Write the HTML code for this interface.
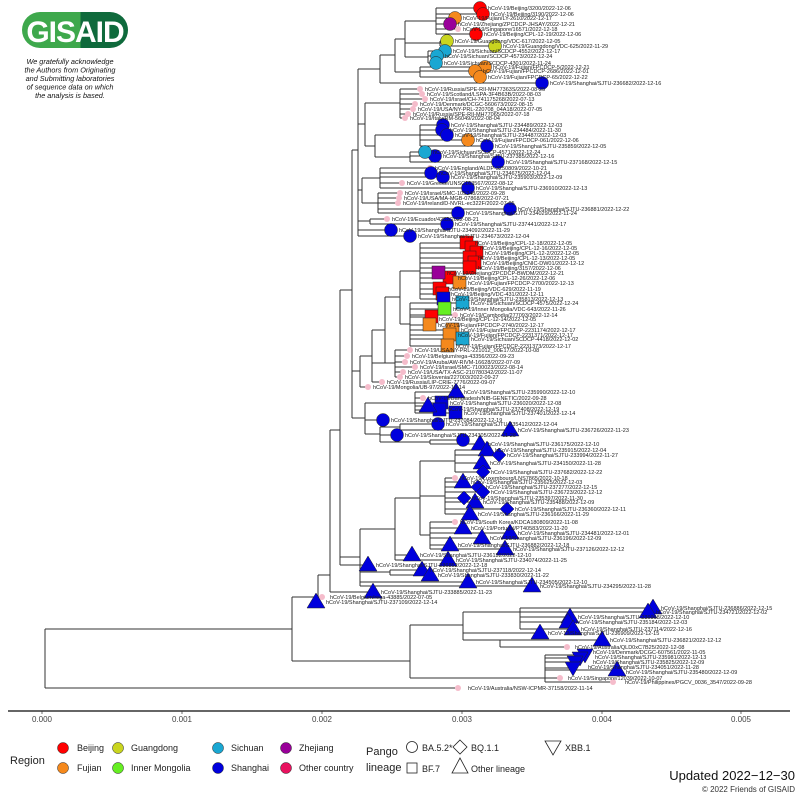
<!DOCTYPE html>
<html><head><meta charset="utf-8"><style>
html,body{margin:0;padding:0;background:#fff;}
svg{display:block;font-family:"Liberation Sans",sans-serif;}
.l{font-size:5.5px;fill:#222;}
.t{font-size:8px;fill:#444;text-anchor:middle;}
.g{font-size:9px;fill:#222;}
</style></head><body>
<svg width="800" height="800" viewBox="0 0 800 800" xmlns="http://www.w3.org/2000/svg">
<defs>
<linearGradient id="lg" x1="0" x2="1"><stop offset="0.55" stop-color="#3ea84c"/><stop offset="0.55" stop-color="#0f6a3c"/></linearGradient>
</defs>
<rect x="22" y="12" width="106" height="36" rx="18" fill="url(#lg)"/>
<text x="75" y="42" font-size="30" font-weight="bold" fill="#fff" text-anchor="middle" letter-spacing="-1">GISAID</text>
<g font-size="7.3" font-style="italic" fill="#111" text-anchor="middle">
<text x="70" y="64">We gratefully acknowledge</text>
<text x="70" y="72.5">the Authors from Originating</text>
<text x="70" y="81">and Submitting laboratories</text>
<text x="70" y="89.5">of sequence data on which</text>
<text x="70" y="98">the analysis is based.</text>
</g>
<path fill="none" stroke="#333" stroke-width="1" d="
M45 629V688M45 629H292M45 688H455
M292 597V661M292 661H410M410 625V678
M410 678H545M545 655V682M545 655H585M545 658H580M545 662H575M545 668H573M545 670H617M545 678H560M545 682H613
M410 625H463M463 612V640M463 612H520M520 608V629M520 608H653M520 612H648M520 617H570M520 622H568M520 629H573M463 633H540M463 640H500M500 640V647M500 640H602M500 647H567
M292 597H318M318 575V602M318 597H322M318 602H320M318 575H330
M330 430V592M330 592H373M330 430H340M340 290V565M340 565H368M340 557H360M340 290H352
M360 529V586M360 582H468M360 586H532M360 572H390M390 570V575M390 570H422M390 575H430
M360 529H395M395 498V560M395 555H412M395 560H448M395 498H420M420 461V535
M420 461H455M455 450V472M455 450H487M455 455H499M455 463H482M455 472H483
M420 496H445M445 478V514M445 478H455M445 482H463M445 487H478M445 492H483M445 498H464M445 502H475M445 509H507M445 514H470
M420 535H430M430 522V549M430 522H455M430 528H463M430 533H510M430 538H482M430 545H450M430 549H505
M352 150V418M352 418H365M365 403V434M365 403H375M375 403H415M415 392V413M415 392H456M415 398H423M415 403H442M415 406H428M415 410H440M415 413H456
M365 434H380M380 427V442M380 420H383M365 420H383M380 427H400M400 424V430M400 424H438M400 430H510M380 435H397M380 442H430M430 440V444M430 440H463M430 444H480
M352 371H360M360 356V387M360 387H368M360 356H372M372 330V382M372 382H382M372 363H395M395 350V377M395 350H410M395 356H407M395 362H405M395 367H415M395 372H403M395 377H400
M372 330H385M385 297V363M385 297H400M400 271V324M400 271H420M420 243V299M420 243H467M420 248H472M420 253H477M420 258H470M420 263H475M420 268H470M420 273H439M420 278H450M420 283H460M420 289H440M420 294H443M420 299H444
M400 324H410M410 303V346M410 303H463M410 309H445M410 315H455M410 317H431M410 325H430M410 330H453M410 335H450M410 339H463M410 346H448
M352 150H358M358 69V236M358 236H410M358 230H391M358 221H370M370 219V224M370 219H387M370 224H447
M358 190H362M362 178V203M362 178H380M380 168V188M380 168H430M380 173H431M380 177H443M380 183H402M380 188H468
M362 203H378M378 193V213M378 193H400M378 198H399M378 203H398M378 209H510M378 213H458
M358 124H365M365 103V146M365 103H400M400 89V118M400 89H420M400 94H422M400 99H425M400 104H415M400 109H413M400 114H408M400 118H405
M365 146H375M375 135V157M375 135H420M420 125V146M420 125H443M420 130H442M420 135H447M420 140H468M420 146H487M375 157H410M410 152V162M410 152H425M410 156H435M410 162H498
M358 69H380M380 55V83M380 83H542M380 55H395M395 39V72M395 72H420M420 67V77M420 67H485M420 71H475M420 77H480M395 39H405M405 21V57M405 57H428M428 51V63M428 51H445M428 56H437M428 63H436M405 43H440M440 41V46M440 41H447M440 46H495M405 21H436M436 8V34M436 8H480M436 14H483M436 18H455M436 24H450M436 29H458M436 34H476
"/>
<g fill="#f5bccb">
<circle cx="458" cy="29" r="3"/><circle cx="420" cy="89" r="3"/><circle cx="422" cy="94" r="3"/><circle cx="425" cy="99" r="3"/><circle cx="415" cy="104" r="3"/><circle cx="413" cy="109" r="3"/><circle cx="408" cy="114" r="3"/><circle cx="405" cy="118" r="3"/><circle cx="430" cy="168" r="3"/><circle cx="402" cy="183" r="3"/><circle cx="400" cy="193" r="3"/><circle cx="399" cy="198" r="3"/><circle cx="398" cy="203" r="3"/><circle cx="387" cy="219" r="3"/><circle cx="455" cy="315" r="3"/><circle cx="410" cy="350" r="3"/><circle cx="407" cy="356" r="3"/><circle cx="405" cy="362" r="3"/><circle cx="415" cy="367" r="3"/><circle cx="403" cy="372" r="3"/><circle cx="400" cy="377" r="3"/><circle cx="382" cy="382" r="3"/><circle cx="368" cy="387" r="3"/><circle cx="423" cy="398" r="3"/><circle cx="455" cy="478" r="3"/><circle cx="455" cy="522" r="3"/><circle cx="322" cy="597" r="3"/><circle cx="567" cy="647" r="3"/><circle cx="560" cy="678" r="3"/><circle cx="613" cy="682" r="3"/><circle cx="458" cy="688" r="3"/>
</g>
<g stroke="#222" stroke-width="0.5">
<circle cx="480" cy="8" r="6.5" fill="#f00"/><circle cx="483" cy="14" r="6.5" fill="#f00"/><circle cx="455" cy="18" r="6.5" fill="#f5891d"/><circle cx="450" cy="24" r="6.5" fill="#990099"/><circle cx="476" cy="34" r="6.5" fill="#f00"/><circle cx="447" cy="41" r="6.5" fill="#c9d51f"/><circle cx="495" cy="46" r="6.5" fill="#c9d51f"/><circle cx="445" cy="51" r="6.5" fill="#1aa7d2"/><circle cx="437" cy="56" r="6.5" fill="#1aa7d2"/><circle cx="436" cy="63" r="6.5" fill="#1aa7d2"/><circle cx="485" cy="67" r="6.5" fill="#f5891d"/><circle cx="475" cy="71" r="6.5" fill="#f5891d"/><circle cx="480" cy="77" r="6.5" fill="#f5891d"/>
<g fill="#0000dd">
<circle cx="542" cy="83" r="6.5"/><circle cx="443" cy="125" r="6.5"/><circle cx="442" cy="130" r="6.5"/><circle cx="447" cy="135" r="6.5"/><circle cx="487" cy="146" r="6.5"/><circle cx="435" cy="156" r="6.5"/><circle cx="498" cy="162" r="6.5"/><circle cx="431" cy="173" r="6.5"/><circle cx="443" cy="177" r="6.5"/><circle cx="468" cy="188" r="6.5"/><circle cx="510" cy="209" r="6.5"/><circle cx="458" cy="213" r="6.5"/><circle cx="447" cy="224" r="6.5"/><circle cx="391" cy="230" r="6.5"/><circle cx="410" cy="236" r="6.5"/><circle cx="383" cy="420" r="6.5"/><circle cx="438" cy="424" r="6.5"/><circle cx="397" cy="435" r="6.5"/><circle cx="463" cy="440" r="6.5"/>
</g>
<circle cx="468" cy="140" r="6.5" fill="#f5891d"/><circle cx="425" cy="152" r="6.5" fill="#1aa7d2"/>
<g fill="#f00">
<rect x="460" y="236" width="13" height="13"/><rect x="465" y="241" width="13" height="13"/><rect x="470" y="246" width="13" height="13"/><rect x="463" y="251" width="13" height="13"/><rect x="468" y="256" width="13" height="13"/><rect x="463" y="261" width="13" height="13"/><rect x="443" y="271" width="13" height="13"/><rect x="433" y="282" width="13" height="13"/><rect x="436" y="287" width="13" height="13"/><rect x="425" y="310" width="13" height="13"/>
</g>
<rect x="432" y="266" width="13" height="13" fill="#990099"/>
<rect x="453" y="276" width="13" height="13" fill="#f5891d"/>
<rect x="437" y="292" width="13" height="13" fill="#0000dd"/>
<rect x="456" y="296" width="13" height="13" fill="#1aa7d2"/>
<rect x="438" y="302" width="13" height="13" fill="#66ee22"/>
<g fill="#f5891d"><rect x="423" y="318" width="13" height="13"/><rect x="446" y="323" width="13" height="13"/><rect x="443" y="328" width="13" height="13"/><rect x="441" y="339" width="13" height="13"/></g>
<rect x="456" y="332" width="13" height="13" fill="#1aa7d2"/>
<g fill="#0000dd"><rect x="435" y="396" width="13" height="13"/><rect x="433" y="403" width="13" height="13"/><rect x="449" y="406" width="13" height="13"/></g>
<g fill="#0000dd">
<polygon points="456,383 447,398 465,398"/><polygon points="428,397 419,412 437,412"/><polygon points="510,421 501,436 519,436"/><polygon points="480,435 471,450 489,450"/><polygon points="487,441 478,456 496,456"/><polygon points="482,454 473,469 491,469"/><polygon points="463,473 454,488 472,488"/><polygon points="475,493 466,508 484,508"/><polygon points="470,505 461,520 479,520"/><polygon points="463,519 454,534 472,534"/><polygon points="510,524 501,539 519,539"/><polygon points="482,529 473,544 491,544"/><polygon points="450,536 441,551 459,551"/><polygon points="505,540 496,555 514,555"/><polygon points="412,546 403,561 421,561"/><polygon points="448,551 439,566 457,566"/><polygon points="368,556 359,571 377,571"/><polygon points="422,561 413,576 431,576"/><polygon points="430,566 421,581 439,581"/><polygon points="468,573 459,588 477,588"/><polygon points="532,577 523,592 541,592"/><polygon points="373,583 364,598 382,598"/><polygon points="316,593 307,608 325,608"/>
<polygon points="653,599 644,614 662,614"/><polygon points="648,603 639,618 657,618"/><polygon points="570,608 561,623 579,623"/><polygon points="568,613 559,628 577,628"/><polygon points="573,620 564,635 582,635"/><polygon points="540,624 531,639 549,639"/><polygon points="602,631 593,646 611,646"/><polygon points="617,661 608,676 626,676"/>
<polygon points="577,649 593,649 585,663"/><polygon points="572,652 588,652 580,666"/><polygon points="567,656 583,656 575,670"/><polygon points="565,662 581,662 573,676"/>
<polygon points="499,448 506,455 499,462 492,455"/><polygon points="483,465 490,472 483,479 476,472"/><polygon points="478,480 485,487 478,494 471,487"/><polygon points="483,485 490,492 483,499 476,492"/><polygon points="464,491 471,498 464,505 457,498"/><polygon points="507,502 514,509 507,516 500,509"/>
</g>
</g>
<g class="l">
<text x="488" y="10">hCoV-19/Beijing/3200/2022-12-06</text>
<text x="491" y="16">hCoV-19/Beijing/3190/2022-12-06</text>
<text x="463" y="20">hCoV-19/Fujian/LY-2610/2022-12-17</text>
<text x="458" y="26">hCoV-19/Zhejiang/ZPCDCP-JHSAY/2022-12-21</text>
<text x="463" y="31">hCoV-19/Singapore/16571/2022-12-18</text>
<text x="484" y="36">hCoV-19/Beijing/CPL-12-19/2022-12-06</text>
<text x="455" y="43">hCoV-19/Guangdong/VDC-617/2022-12-05</text>
<text x="503" y="48">hCoV-19/Guangdong/VDC-625/2022-11-29</text>
<text x="453" y="53">hCoV-19/Sichuan/SCDCP-4552/2022-12-17</text>
<text x="445" y="58">hCoV-19/Sichuan/SCDCP-4573/2022-12-24</text>
<text x="444" y="65">hCoV-19/Sichuan/SCDCP-4301/2022-11-24</text>
<text x="493" y="69">hCoV-19/Fujian/FPCDCP-5/2022-12-21</text>
<text x="483" y="73">hCoV-19/Fujian/FPCDCP-2686/2022-12-01</text>
<text x="488" y="79">hCoV-19/Fujian/FPCDCP-65/2022-12-22</text>
<text x="550" y="85">hCoV-19/Shanghai/SJTU-236682/2022-12-16</text>
<text x="425" y="91">hCoV-19/Russia/SPE-RII-MH77363S/2022-08-25</text>
<text x="427" y="96">hCoV-19/Scotland/LSPA-3F4B63B/2022-08-03</text>
<text x="430" y="101">hCoV-19/Israel/CH-741175268/2022-07-13</text>
<text x="420" y="106">hCoV-19/Denmark/DCGC-560673/2022-08-15</text>
<text x="418" y="111">hCoV-19/USA/NY-PRL-220708_04A18/2022-07-05</text>
<text x="413" y="116">hCoV-19/Russia/SPE-RII-MH77065/2022-07-18</text>
<text x="410" y="120">hCoV-19/Italy/RM-56049/2022-08-04</text>
<text x="451" y="127">hCoV-19/Shanghai/SJTU-234489/2022-12-03</text>
<text x="450" y="132">hCoV-19/Shanghai/SJTU-234484/2022-11-30</text>
<text x="455" y="137">hCoV-19/Shanghai/SJTU-234487/2022-12-03</text>
<text x="476" y="142">hCoV-19/Fujian/FPCDCP-061/2022-12-06</text>
<text x="495" y="148">hCoV-19/Shanghai/SJTU-235859/2022-12-05</text>
<text x="433" y="154">hCoV-19/Sichuan/SCDCP-4571/2022-12-24</text>
<text x="443" y="158">hCoV-19/Shanghai/SJTU-237385/2022-12-16</text>
<text x="506" y="164">hCoV-19/Shanghai/SJTU-237168/2022-12-15</text>
<text x="435" y="170">hCoV-19/England/ALDP-3250809/2022-10-21</text>
<text x="439" y="175">hCoV-19/Shanghai/SJTU-234675/2022-12-04</text>
<text x="451" y="179">hCoV-19/Shanghai/SJTU-235903/2022-12-09</text>
<text x="407" y="185">hCoV-19/Greece/UNSC163567/2022-08-12</text>
<text x="476" y="190">hCoV-19/Shanghai/SJTU-236910/2022-12-13</text>
<text x="405" y="195">hCoV-19/Israel/SMC-105348/2022-09-28</text>
<text x="404" y="200">hCoV-19/USA/MA-MGB-07868/2022-07-21</text>
<text x="403" y="205">hCoV-19/Ireland/D-NVRL-ec322F/2022-07-05</text>
<text x="518" y="211">hCoV-19/Shanghai/SJTU-236881/2022-12-22</text>
<text x="466" y="215">hCoV-19/Shanghai/SJTU-234029/2022-11-24</text>
<text x="392" y="221">hCoV-19/Ecuador/4252/2022-08-21</text>
<text x="455" y="226">hCoV-19/Shanghai/SJTU-237441/2022-12-17</text>
<text x="399" y="232">hCoV-19/Shanghai/SJTU-234092/2022-11-29</text>
<text x="418" y="238">hCoV-19/Shanghai/SJTU-234673/2022-12-04</text>
<text x="475" y="245">hCoV-19/Beijing/CPL-12-18/2022-12-05</text>
<text x="480" y="250">hCoV-19/Beijing/CPL-12-16/2022-12-05</text>
<text x="485" y="255">hCoV-19/Beijing/CPL-12-2/2022-12-05</text>
<text x="478" y="260">hCoV-19/Beijing/CPL-12-13/2022-12-05</text>
<text x="483" y="265">hCoV-19/Beijing/CNIC-DW01/2022-12-12</text>
<text x="478" y="270">hCoV-19/Beijing/3157/2022-12-06</text>
<text x="447" y="275">hCoV-19/Zhejiang/ZPCDCP-BWDM/2022-12-21</text>
<text x="458" y="280">hCoV-19/Beijing/CPL-12-26/2022-12-06</text>
<text x="468" y="285">hCoV-19/Fujian/FPCDCP-2700/2022-12-13</text>
<text x="448" y="291">hCoV-19/Beijing/VDC-629/2022-11-19</text>
<text x="451" y="296">hCoV-19/Beijing/VDC-431/2022-12-11</text>
<text x="452" y="301">hCoV-19/Shanghai/SJTU-235813/2022-12-13</text>
<text x="471" y="305">hCoV-19/Sichuan/SCDCP-4575/2022-12-24</text>
<text x="453" y="311">hCoV-19/Inner Mongolia/VDC-643/2022-11-26</text>
<text x="460" y="317">hCoV-19/Cambodia/277093/2022-12-14</text>
<text x="439" y="321">hCoV-19/Beijing/CPL-12-14/2022-12-05</text>
<text x="438" y="327">hCoV-19/Fujian/FPCDCP-2740/2022-12-17</text>
<text x="461" y="332">hCoV-19/Fujian/FPCDCP-2231174/2022-12-17</text>
<text x="458" y="337">hCoV-19/Fujian/FPCDCP-2231371/2022-12-17</text>
<text x="471" y="341">hCoV-19/Sichuan/SCDCP-4418/2022-12-02</text>
<text x="456" y="348">hCoV-19/Fujian/FPCDCP-2231373/2022-12-17</text>
<text x="415" y="352">hCoV-19/USA/NY-PRL-221012_00E17/2022-10-08</text>
<text x="412" y="358">hCoV-19/Belgium/rega-43356/2022-09-23</text>
<text x="410" y="364">hCoV-19/Aruba/AW-RIVM-16628/2022-07-09</text>
<text x="420" y="369">hCoV-19/Israel/SMC-7100023/2022-08-14</text>
<text x="408" y="374">hCoV-19/USA/TX-ASC-210780342/2022-11-07</text>
<text x="405" y="379">hCoV-19/Slovenia/227003/2022-09-27</text>
<text x="387" y="384">hCoV-19/Russia/LIP-CRIE-7776/2022-09-07</text>
<text x="373" y="389">hCoV-19/Mongolia/UB-97/2022-10-14</text>
<text x="464" y="394">hCoV-19/Shanghai/SJTU-235990/2022-12-10</text>
<text x="428" y="400">hCoV-19/Bangladesh/NIB-GENETIC/2022-09-28</text>
<text x="450" y="405">hCoV-19/Shanghai/SJTU-236020/2022-12-08</text>
<text x="448" y="411">hCoV-19/Shanghai/SJTU-237408/2022-12-19</text>
<text x="464" y="415">hCoV-19/Shanghai/SJTU-237401/2022-12-14</text>
<text x="391" y="422">hCoV-19/Shanghai/SJTU-237084/2022-12-19</text>
<text x="446" y="426">hCoV-19/Shanghai/SJTU-235412/2022-12-04</text>
<text x="518" y="432">hCoV-19/Shanghai/SJTU-236726/2022-11-23</text>
<text x="405" y="437">hCoV-19/Shanghai/SJTU-234305/2022-11-28</text>
<text x="488" y="446">hCoV-19/Shanghai/SJTU-236175/2022-12-10</text>
<text x="495" y="452">hCoV-19/Shanghai/SJTU-235915/2022-12-04</text>
<text x="507" y="457">hCoV-19/Shanghai/SJTU-233994/2022-11-27</text>
<text x="490" y="465">hCoV-19/Shanghai/SJTU-234150/2022-11-28</text>
<text x="491" y="474">hCoV-19/Shanghai/SJTU-237682/2022-12-22</text>
<text x="460" y="480">hCoV-19/Luxembourg/LNS7865/2022-10-18</text>
<text x="471" y="484">hCoV-19/Shanghai/SJTU-235625/2022-12-03</text>
<text x="486" y="489">hCoV-19/Shanghai/SJTU-237277/2022-12-15</text>
<text x="491" y="494">hCoV-19/Shanghai/SJTU-236723/2022-12-12</text>
<text x="472" y="500">hCoV-19/Shanghai/SJTU-235397/2022-11-30</text>
<text x="483" y="504">hCoV-19/Shanghai/SJTU-235488/2022-12-09</text>
<text x="515" y="511">hCoV-19/Shanghai/SJTU-236360/2022-12-11</text>
<text x="478" y="516">hCoV-19/Shanghai/SJTU-236166/2022-11-29</text>
<text x="460" y="524">hCoV-19/South Korea/KDCA180809/2022-11-08</text>
<text x="471" y="530">hCoV-19/Portugal/PT40583/2022-11-20</text>
<text x="518" y="535">hCoV-19/Shanghai/SJTU-234481/2022-12-01</text>
<text x="490" y="540">hCoV-19/Shanghai/SJTU-236196/2022-12-09</text>
<text x="458" y="547">hCoV-19/Shanghai/SJTU-236882/2022-12-18</text>
<text x="513" y="551">hCoV-19/Shanghai/SJTU-237126/2022-12-12</text>
<text x="420" y="557">hCoV-19/Shanghai/SJTU-236132/2022-12-10</text>
<text x="456" y="562">hCoV-19/Shanghai/SJTU-234074/2022-11-25</text>
<text x="376" y="567">hCoV-19/Shanghai/SJTU-236852/2022-12-18</text>
<text x="430" y="572">hCoV-19/Shanghai/SJTU-237118/2022-12-14</text>
<text x="438" y="577">hCoV-19/Shanghai/SJTU-233830/2022-11-22</text>
<text x="476" y="584">hCoV-19/Shanghai/SJTU-234505/2022-12-10</text>
<text x="540" y="588">hCoV-19/Shanghai/SJTU-234295/2022-11-28</text>
<text x="381" y="594">hCoV-19/Shanghai/SJTU-233885/2022-11-23</text>
<text x="330" y="599">hCoV-19/Belgium/rega-43885/2022-07-05</text>
<text x="326" y="604">hCoV-19/Shanghai/SJTU-237109/2022-12-14</text>
<text x="661" y="610">hCoV-19/Shanghai/SJTU-236886/2022-12-15</text>
<text x="656" y="614">hCoV-19/Shanghai/SJTU-234721/2022-12-02</text>
<text x="578" y="619">hCoV-19/Shanghai/SJTU-236968/2022-12-10</text>
<text x="576" y="624">hCoV-19/Shanghai/SJTU-235184/2022-12-03</text>
<text x="581" y="631">hCoV-19/Shanghai/SJTU-237114/2022-12-16</text>
<text x="548" y="635">hCoV-19/Shanghai/SJTU-236909/2022-12-15</text>
<text x="610" y="642">hCoV-19/Shanghai/SJTU-236821/2022-12-12</text>
<text x="575" y="649">hCoV-19/Australia/QLD0xC7B25/2022-12-08</text>
<text x="593" y="654">hCoV-19/Denmark/DCGC-607561/2022-11-05</text>
<text x="595" y="659">hCoV-19/Shanghai/SJTU-235981/2022-12-13</text>
<text x="593" y="664">hCoV-19/Shanghai/SJTU-235825/2022-12-09</text>
<text x="588" y="669">hCoV-19/Shanghai/SJTU-234051/2022-11-28</text>
<text x="626" y="674">hCoV-19/Shanghai/SJTU-235480/2022-12-09</text>
<text x="568" y="680">hCoV-19/Singapore/12039/2022-10-07</text>
<text x="625" y="684">hCoV-19/Philippines/PGCV_0036_3547/2022-09-28</text>
<text x="468" y="690">hCoV-19/Australia/NSW-ICPMR-37158/2022-11-14</text>
</g>
<line x1="8" y1="711" x2="790" y2="711" stroke="#333" stroke-width="1.5"/>
<g stroke="#333" stroke-width="0.7"><line x1="42" y1="711" x2="42" y2="714"/><line x1="182" y1="711" x2="182" y2="714"/><line x1="322" y1="711" x2="322" y2="714"/><line x1="462" y1="711" x2="462" y2="714"/><line x1="602" y1="711" x2="602" y2="714"/><line x1="741" y1="711" x2="741" y2="714"/></g>
<text class="t" x="42" y="722">0.000</text><text class="t" x="182" y="722">0.001</text><text class="t" x="322" y="722">0.002</text><text class="t" x="462" y="722">0.003</text><text class="t" x="602" y="722">0.004</text><text class="t" x="741" y="722">0.005</text>
<!-- legend -->
<text x="10" y="764" font-size="11" fill="#222">Region</text>
<g stroke="#222" stroke-width="0.5">
<circle cx="63" cy="748" r="5.5" fill="#f00"/><circle cx="118" cy="748" r="5.5" fill="#c9d51f"/><circle cx="218" cy="748" r="5.5" fill="#1aa7d2"/><circle cx="286" cy="748" r="5.5" fill="#990099"/>
<circle cx="63" cy="768" r="5.5" fill="#f5891d"/><circle cx="118" cy="768" r="5.5" fill="#66ee22"/><circle cx="218" cy="768" r="5.5" fill="#0000dd"/><circle cx="286" cy="768" r="5.5" fill="#e8125f"/>
</g>
<g class="g">
<text x="77" y="751">Beijing</text><text x="131" y="751">Guangdong</text><text x="231" y="751">Sichuan</text><text x="299" y="751">Zhejiang</text>
<text x="77" y="771">Fujian</text><text x="131" y="771">Inner Mongolia</text><text x="231" y="771">Shanghai</text><text x="299" y="771">Other country</text>
</g>
<text x="366" y="755" font-size="11" fill="#222">Pango</text>
<text x="366" y="771" font-size="11" fill="#222">lineage</text>
<g fill="none" stroke="#222" stroke-width="0.8">
<circle cx="412" cy="747" r="5.5"/><rect x="407" y="763" width="10" height="10"/>
<polygon points="460,740 467,747 460,754 453,747"/><polygon points="460,758 452,773 468,773"/>
<polygon points="545,741 561,741 553,755"/>
</g>
<g class="g">
<text x="422" y="751">BA.5.2*</text><text x="422" y="772">BF.7</text><text x="471" y="751">BQ.1.1</text><text x="471" y="772">Other lineage</text><text x="565" y="751">XBB.1</text>
</g>
<text x="795" y="780" font-size="13" fill="#111" text-anchor="end">Updated 2022−12−30</text>
<text x="795" y="792" font-size="8" fill="#333" text-anchor="end">© 2022 Friends of GISAID</text>
</svg>
</body></html>
